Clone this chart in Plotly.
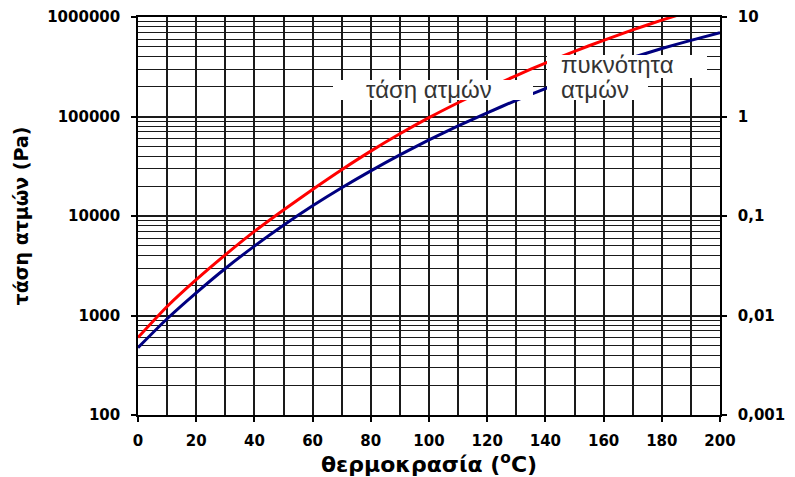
import plotly.graph_objects as go

# ---- data ----
temperature = [0, 10, 20, 30, 40, 50, 60, 70, 80, 90, 100, 110, 120, 130, 140, 150, 160, 170, 180, 190, 200]
vapour_pressure_pa = [600, 1230, 2290, 4070, 7000, 11500, 18500, 29200, 44900, 67000, 97300,
                      137400, 190100, 258200, 344400, 451900, 583400, 741300, 929000, 1148000, 1400000]
vapour_density = [0.00475, 0.00927, 0.0169, 0.0297, 0.0498, 0.0807, 0.1265, 0.192, 0.284, 0.411, 0.581,
                  0.804, 1.09, 1.455, 1.91, 2.47, 3.13, 3.92, 4.82, 5.83, 6.97]

left_ticks = [100, 1000, 10000, 100000, 1000000]
left_ticktext = ["100", "1000", "10000", "100000", "1000000"]
right_ticks = [0.001, 0.01, 0.1, 1, 10]
right_ticktext = ["0,001", "0,01", "0,1", "1", "10"]
x_ticks = [0, 20, 40, 60, 80, 100, 120, 140, 160, 180, 200]

label_pressure = "τάση ατμών"
label_density_1 = "πυκνότητα"
label_density_2 = "ατμών"
x_title = "θερμοκρασία (<sup>o</sup>C)"
y_title = "τάση ατμών (Pa)"

TICKFONT = dict(family="DejaVu Sans", size=15, color="black", weight="bold")
GRID = "#1a1a1a"

fig = go.Figure()
fig.add_trace(go.Scatter(x=temperature, y=vapour_pressure_pa, mode="lines",
                         line=dict(color="#ff0000", width=3, shape="spline", smoothing=0.6),
                         yaxis="y", showlegend=False))
fig.add_trace(go.Scatter(x=temperature, y=vapour_density, mode="lines",
                         line=dict(color="#000080", width=3, shape="spline", smoothing=0.6),
                         yaxis="y2", showlegend=False))

# page body has an 8px margin: figure occupies screen pixels 8..795, 8..477
OFF = 8
W, H = 795 - OFF, 477 - OFF
L, R, T, B = 138 - OFF, 75, 17 - OFF, 62
pw, ph = W - L - R, H - T - B


def px(xs):
    return (xs - OFF - L) / pw


def py(ys):
    return (H - B - (ys - OFF)) / ph


fig.update_layout(
    width=W, height=H,
    margin=dict(l=L, r=R, t=T, b=B, autoexpand=False),
    paper_bgcolor="white", plot_bgcolor="white",
    showlegend=False,
    xaxis=dict(
        range=[0, 200], tickvals=x_ticks, ticks="outside", ticklen=5, tickwidth=1.5,
        tickcolor="black", tickfont=TICKFONT, ticklabelstandoff=6, automargin=False,
        showgrid=True, gridcolor=GRID, gridwidth=1.5,
        minor=dict(dtick=10, showgrid=True, gridcolor=GRID, gridwidth=1.5),
        showline=True, linecolor="black", linewidth=1.5, mirror=True,
        zeroline=False,
        title=dict(text=x_title, font=dict(family="DejaVu Sans", size=22, color="black", weight="bold"),
                   standoff=5),
    ),
    yaxis=dict(
        type="log", range=[2, 6], tickvals=left_ticks, ticktext=left_ticktext,
        ticks="outside", ticklen=5, tickwidth=1.5, tickcolor="black", tickfont=TICKFONT,
        ticklabelstandoff=8, automargin=False,
        showgrid=True, gridcolor=GRID, gridwidth=1.5,
        minor=dict(dtick="D1", showgrid=True, gridcolor=GRID, gridwidth=1.2),
        showline=True, linecolor="black", linewidth=1.5, zeroline=False,
        title=dict(text=y_title, font=dict(family="DejaVu Sans", size=19, color="black", weight="bold"),
                   standoff=14),
    ),
    yaxis2=dict(
        type="log", range=[-3, 1], overlaying="y", side="right",
        tickvals=right_ticks, ticktext=right_ticktext,
        ticks="outside", ticklen=5, tickwidth=1.5, tickcolor="black", tickfont=TICKFONT,
        ticklabelstandoff=8, automargin=False,
        showgrid=False, showline=True, linecolor="black", linewidth=1.5, zeroline=False,
    ),
)

# white label boxes (drawn above the curves, like the original data labels)
boxes = [(333, 533, 80, 100), (547, 707, 55, 78), (547, 648, 78, 100)]
for x0, x1, y0, y1 in boxes:
    fig.add_shape(type="rect", xref="paper", yref="paper", layer="above",
                  x0=px(x0), x1=px(x1), y0=py(y1), y1=py(y0),
                  fillcolor="white", line=dict(width=0))

LABELFONT = dict(family="Liberation Sans", size=24, color="#333333")
fig.add_annotation(text=label_pressure, xref="paper", yref="paper", x=px(364), y=py(89),
                   xanchor="left", yanchor="middle", showarrow=False, font=LABELFONT)
fig.add_annotation(text=label_density_1, xref="paper", yref="paper", x=px(559), y=py(65),
                   xanchor="left", yanchor="middle", showarrow=False, font=LABELFONT)
fig.add_annotation(text=label_density_2, xref="paper", yref="paper", x=px(559), y=py(89),
                   xanchor="left", yanchor="middle", showarrow=False, font=LABELFONT)

fig.write_html("out.html")
